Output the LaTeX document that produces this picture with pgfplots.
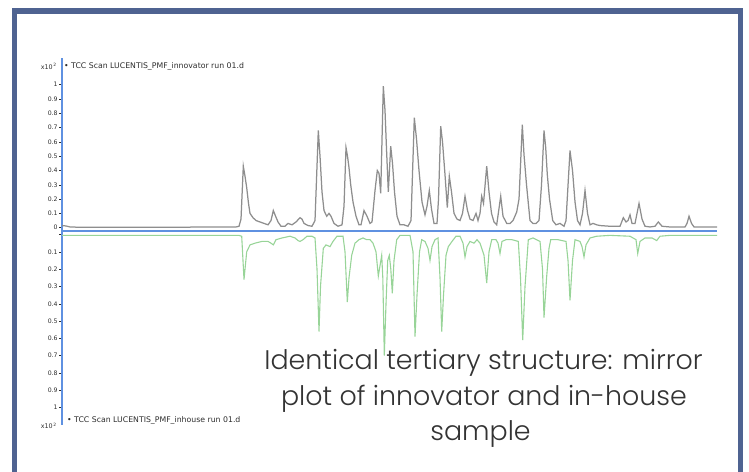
\documentclass[border=0pt]{standalone}
\usepackage{fontspec}
\setmainfont{DejaVu Sans}
\IfFontExistsTF{Poppins Light}{\newfontfamily\capfont{Poppins Light}}{\newfontfamily\capfont{Poppins}}
\usepackage{pgfplots}
\pgfplotsset{compat=1.18}

\definecolor{framecol}{HTML}{4F6391}
\definecolor{axisblue}{HTML}{5F91E1}
\definecolor{tracegray}{HTML}{8E8E8E}
\definecolor{tracegreen}{HTML}{98D498}
\definecolor{labelgray}{HTML}{2C2C2C}
\definecolor{captext}{HTML}{333333}

\tikzset{blueline/.style={-, draw=axisblue, line width=1.8bp}}
\pgfplotsset{
  spec/.style={
    scale only axis, width=655bp,
    xmin=62, xmax=717, xtick=\empty,
    axis y line=left,
    tick align=outside, major tick length=3bp,
    tick style={draw=labelgray, line width=0.5bp},
    yticklabel style={font=\fontsize{6.2}{7}\selectfont, text=labelgray, inner sep=1.2bp},
  },
}

\begin{document}
\begin{tikzpicture}[x=1bp,y=1bp]

% innovator (upper, grey)
\begin{axis}[spec, at={(62bp,241.3bp)}, anchor=south west,
  height=172.7bp, ymin=-0.021, ymax=1.187,
  axis x line=bottom,
  x axis line style={blueline}, y axis line style={blueline},
  ytick={0,0.1,...,1.01},
  yticklabels={0,0.1,0.2,0.3,0.4,0.5,0.6,0.7,0.8,0.9,1}]
\addplot[tracegray, line width=1.25bp] table {
62 0.015
66 0.012
70 0.005
80 0.003
150 0.003
236 0.005
239 0.01
241 0.06
243.3 0.43
245 0.36
246.7 0.28
248.5 0.17
250 0.10
253 0.07
256 0.05
260 0.04
264 0.03
268 0.02
271 0.05
273.3 0.12
275 0.09
278 0.04
281 0.01
285 0.01
288 0.03
292 0.02
296 0.04
300 0.07
302 0.06
304 0.03
308 0.015
312 0.01
315 0.05
318.3 0.68
320 0.5
322 0.25
324 0.12
326.7 0.08
329 0.10
331 0.08
334 0.03
338 0.01
342 0.02
344 0.15
346 0.56
347.5 0.50
349 0.42
350.7 0.30
353 0.18
356 0.08
359 0.02
361 0.02
364 0.12
367 0.08
370 0.03
372 0.04
375 0.26
377.3 0.40
379 0.38
380.7 0.24
383.3 0.99
385 0.82
386.5 0.55
388.3 0.25
390.7 0.57
392.5 0.45
394.5 0.25
397 0.08
400 0.02
404 0.02
408 0.01
411 0.05
414.3 0.77
416.5 0.62
419 0.40
422 0.18
425 0.09
427 0.15
429.3 0.26
431.5 0.13
434 0.03
437 0.03
438.5 0.2
440.7 0.71
442.5 0.6
445 0.37
447.3 0.14
449.3 0.36
451.5 0.25
454 0.1
457 0.06
460 0.05
462.5 0.10
465 0.22
467.5 0.12
470 0.06
473 0.05
476 0.10
478 0.05
480 0.10
481.7 0.22
483.5 0.17
486.7 0.43
489 0.25
491.5 0.10
494 0.04
496.7 0.02
500.7 0.22
503 0.08
506.7 0.03
510 0.03
513 0.05
516.7 0.11
519 0.20
522.3 0.72
524 0.51
526.5 0.3
530 0.05
533 0.03
536 0.03
539 0.05
541.5 0.3
544 0.68
545.7 0.56
547.3 0.37
549.5 0.2
552.7 0.05
556 0.02
560 0.03
564 0.01
566 0.05
570 0.54
572.5 0.4
575 0.18
577.5 0.05
580 0.02
582.5 0.10
585 0.26
587.5 0.10
590 0.02
593 0.03
596.7 0.02
600 0.015
610 0.01
620 0.01
623.3 0.07
626 0.04
628 0.05
630 0.09
632 0.03
635 0.03
639 0.17
642 0.06
645 0.01
650 0.005
655 0.01
658.3 0.04
662 0.01
670 0.005
685 0.005
687 0.03
689 0.08
691.5 0.03
694 0.005
717 0.005
};
\end{axis}

% in-house (lower, green, mirrored)
\begin{axis}[spec, at={(62bp,241.3bp)}, anchor=north west,
  height=194.3bp, ymin=-0.022, ymax=1.10, y dir=reverse,
  axis x line=none, y axis line style={blueline},
  ytick={0,0.1,...,1.01},
  yticklabels={,0.1,0.2,0.3,0.4,0.5,0.6,0.7,0.8,0.9,1}]
\addplot[tracegreen, line width=1.1bp] table {
62 0.005
230 0.005
239 0.005
241.7 0.01
244 0.26
246.7 0.10
250 0.06
255 0.05
262 0.04
268 0.04
271 0.05
273.3 0.06
276 0.03
282 0.02
290 0.01
295 0.02
298 0.035
300 0.04
303 0.03
307 0.01
312 0.01
315 0.02
317 0.2
319 0.56
320.5 0.3
323.3 0.08
326 0.06
330 0.07
333 0.04
337 0.01
343 0.01
345 0.1
347.3 0.39
349 0.25
351.7 0.12
355 0.05
359 0.03
363 0.02
366.7 0.03
370 0.03
373 0.05
376 0.10
378.3 0.24
380 0.18
381.7 0.12
382.8 0.25
384.3 0.70
386 0.4
387.7 0.15
389.3 0.12
390.8 0.2
392.3 0.34
394 0.15
396.7 0.03
400 0.005
410 0.005
413 0.1
415 0.59
417 0.35
419.5 0.1
421.7 0.03
425 0.04
428 0.08
430 0.15
432 0.07
435 0.03
438 0.02
440 0.25
441.7 0.56
443.5 0.35
446 0.12
448.3 0.07
452 0.04
456 0.01
460 0.01
463 0.05
465 0.13
467 0.07
470 0.04
474 0.05
477 0.03
480 0.05
484 0.12
486.7 0.28
489 0.1
491.7 0.03
496 0.03
498 0.05
500 0.11
502 0.04
506 0.03
512 0.03
518.3 0.04
520.5 0.25
522.7 0.61
525 0.3
528.3 0.03
533 0.02
540 0.04
542.5 0.2
544 0.48
546.7 0.24
549 0.08
550.7 0.03
558 0.03
566 0.04
568 0.15
570 0.38
572.5 0.15
575 0.03
580 0.04
582 0.07
584 0.13
586 0.06
590 0.02
596.7 0.01
610 0.005
630 0.01
636 0.03
637.7 0.11
640 0.04
645 0.02
652 0.02
656.7 0.035
660 0.01
670 0.005
717 0.005
};
\end{axis}

% axis multipliers and trace names
\begin{scope}[every node/.style={inner sep=0, text=labelgray}]
\node[anchor=east, font=\fontsize{6.4}{7}\selectfont] at (57,405.5) {x10\textsuperscript{\,2}};
\node[anchor=east, font=\fontsize{6.4}{7}\selectfont] at (57,46) {x10\textsuperscript{\,2}};
\node[anchor=west, font=\fontsize{7.8}{8}\selectfont] at (64,406) {• TCC Scan LUCENTIS\_PMF\_innovator run 01.d};
\node[anchor=west, font=\fontsize{7.8}{8}\selectfont] at (67,51.5) {• TCC Scan LUCENTIS\_PMF\_inhouse run 01.d};
\end{scope}

% caption
\begin{scope}[every node/.style={anchor=base, inner sep=0, text=captext, font=\capfont\fontsize{27}{35}\selectfont}]
\node at (483.5,102) {Identical tertiary structure: mirror};
\node at (484,66.5) {plot of innovator and in-house};
\node at (480.5,31) {sample};
\end{scope}

% slide frame
\draw[framecol, line width=5.5bp] (14.5,-10) -- (14.5,461) -- (740.5,461) -- (740.5,-10);
\pgfresetboundingbox
\useasboundingbox (0,0) rectangle (749,472);
\end{tikzpicture}
\end{document}
